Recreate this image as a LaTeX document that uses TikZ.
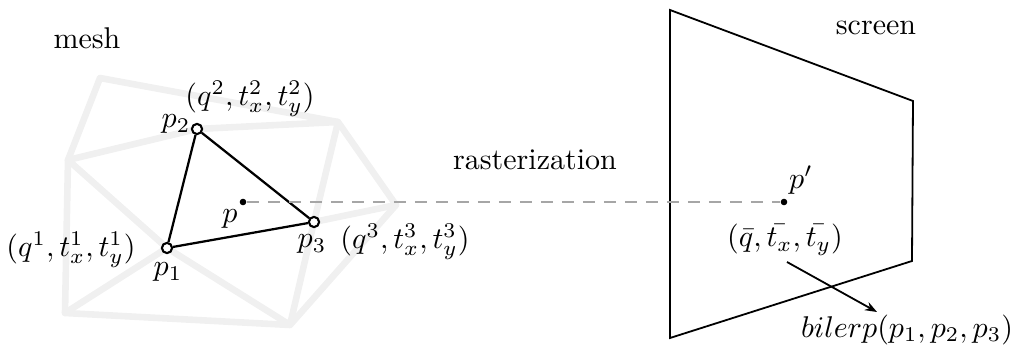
\documentclass[tikz,border=0pt]{standalone}
\usetikzlibrary{arrows.meta}
\begin{document}
\begin{tikzpicture}[x=0.3333pt,y=-0.3333pt,
  meshline/.style={line width=2.2pt,draw=black!6,line cap=round,line join=round},
  vtx/.style={circle,draw=black,fill=white,line width=0.7pt,inner sep=0pt,minimum size=3.4pt},
  pdot/.style={circle,fill=black,inner sep=0pt,minimum size=2.2pt},
  tri/.style={line width=0.75pt,draw=black},
  scr/.style={line width=0.6pt,draw=black,line join=miter},
  rasterline/.style={draw=black!35,line width=0.6pt,dash pattern=on 4pt off 3pt},
  lbl/.style={inner sep=0pt,font=\normalsize}]
\useasboundingbox (0,0) rectangle (1012,352);
% mesh coordinates
\coordinate (mA) at (100,78);
\coordinate (mL) at (68,160);
\coordinate (mBL) at (65,313);
\coordinate (mB) at (290,325);
\coordinate (mTR) at (338,122);
\coordinate (mR) at (396,205);
\coordinate (m1) at (167,248);
\coordinate (m2) at (197,129);
\coordinate (m3) at (314,222);
\draw[meshline] (mA) -- (mTR) -- (mR) -- (mB) -- (mBL) -- (mL) -- cycle;
\draw[meshline] (mL) -- (m2) -- (mTR) -- (m3) -- (mR);
\draw[meshline] (mL) -- (m1) -- (mB) -- (m3);
\draw[meshline] (mBL) -- (m1);
% screen
\coordinate (s1) at (670,10);
\coordinate (s2) at (913,101);
\coordinate (s3) at (912,261);
\coordinate (s4) at (670,338);
\draw[scr] (s1) -- (s2) -- (s3) -- (s4) -- cycle;
% triangle
\node[vtx] (p1) at (167,248) {};
\node[vtx] (p2) at (197,129) {};
\node[vtx] (p3) at (314,222) {};
\draw[tri] (p1) -- (p2) -- (p3) -- (p1);
% points
\node[pdot] (p) at (243,202) {};
\node[pdot] (pp) at (784,202) {};
\draw[rasterline] (p) -- (pp);
% labels
\node[lbl] (tmesh) at (87,38) {mesh};
\node[lbl] (tscreen) at (876,28) {screen};
\node[lbl] (traster) at (535,160) {rasterization};
\node[lbl] (lp1) at (168,272) {$p_1$};
\node[lbl] (lp2) at (176,124) {$p_2$};
\node[lbl] (lp3) at (312,244) {$p_3$};
\node[lbl] (lp) at (230,219) {$p$};
\node[lbl] (lpp) at (801,180) {$p'$};
\node[lbl] (q1) at (71,250) {$(q^1,t^1_x,t^1_y)$};
\node[lbl] (q2) at (250,99) {$(q^2,t^2_x,t^2_y)$};
\node[lbl] (q3) at (405,242) {$(q^3,t^3_x,t^3_y)$};
\node[lbl] (qb) at (785,240) {$(\bar{q},\bar{t_x},\bar{t_y})$};
\node[lbl] (bil) at (907,330) {$bilerp(p_1,p_2,p_3)$};
\coordinate (arrS) at (787,262);
\coordinate (arrE) at (877,312);
\draw[line width=0.6pt,-{Stealth[length=4pt,width=3pt]}] (arrS) -- (arrE);
\end{tikzpicture}
\end{document}
